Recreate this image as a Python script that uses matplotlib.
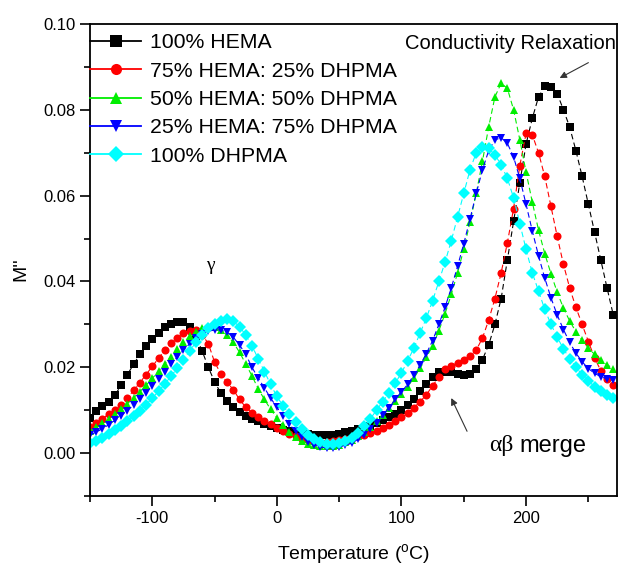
import matplotlib
matplotlib.use("Agg")
import matplotlib.pyplot as plt
from matplotlib.lines import Line2D

plt.rcParams['font.family'] = ['Liberation Sans', 'DejaVu Sans']
plt.rcParams['mathtext.fontset'] = 'custom'
plt.rcParams['mathtext.rm'] = 'Liberation Sans'
plt.rcParams['axes.unicode_minus'] = False

temps = [-150, -145, -140, -135, -130, -125, -120, -115, -110, -105,
         -100, -95, -90, -85, -80, -75, -70, -65, -60, -55,
         -50, -45, -40, -35, -30, -25, -20, -15, -10, -5,
         0, 5, 10, 15, 20, 25, 30, 35, 40, 45,
         50, 55, 60, 65, 70, 75, 80, 85, 90, 95,
         100, 105, 110, 115, 120, 125, 130, 135, 140, 145,
         150, 155, 160, 165, 170, 175, 180, 185, 190, 195,
         200, 205, 210, 215, 220, 225, 230, 235, 240, 245,
         250, 255, 260, 265, 270]

hema100 = [0.0081, 0.0097, 0.0110, 0.0120, 0.0135, 0.0158, 0.0183, 0.0207, 0.0230, 0.0250,
           0.0266, 0.0281, 0.0294, 0.0302, 0.0306, 0.0305, 0.0295, 0.0272, 0.0238, 0.0200,
           0.0166, 0.0140, 0.0122, 0.0107, 0.0095, 0.0087, 0.0080, 0.0074, 0.0068, 0.0063,
           0.0058, 0.0054, 0.0051, 0.0048, 0.0046, 0.0044, 0.0042, 0.0041, 0.0042, 0.0043,
           0.0045, 0.0048, 0.0051, 0.0055, 0.0059, 0.0064, 0.0070, 0.0076, 0.0083, 0.0091,
           0.0100, 0.0112, 0.0127, 0.0145, 0.0162, 0.0178, 0.0188, 0.0189, 0.0188, 0.0185,
           0.0181, 0.0184, 0.0195, 0.0218, 0.0252, 0.0300, 0.0360, 0.0450, 0.0540, 0.0630,
           0.0720, 0.0780, 0.0830, 0.0855, 0.0853, 0.0838, 0.0800, 0.0760, 0.0705, 0.0645,
           0.0580, 0.0515, 0.0450, 0.0385, 0.0322]

hema75 = [0.0060, 0.0070, 0.0080, 0.0091, 0.0100, 0.0112, 0.0128, 0.0146, 0.0164, 0.0183,
          0.0202, 0.0221, 0.0240, 0.0256, 0.0269, 0.0279, 0.0285, 0.0286, 0.0276, 0.0255,
          0.0212, 0.0185, 0.0165, 0.0148, 0.0125, 0.0107, 0.0094, 0.0083, 0.0074, 0.0067,
          0.0059, 0.0052, 0.0045, 0.0039, 0.0034, 0.0030, 0.0028, 0.0027, 0.0027, 0.0028,
          0.0030, 0.0033, 0.0036, 0.0039, 0.0042, 0.0046, 0.0051, 0.0058, 0.0066, 0.0074,
          0.0083, 0.0093, 0.0106, 0.0120, 0.0136, 0.0157, 0.0177, 0.0195, 0.0204, 0.0211,
          0.0218, 0.0226, 0.0240, 0.0268, 0.0310, 0.0360, 0.0420, 0.0490, 0.0570, 0.0670,
          0.0745, 0.0742, 0.0700, 0.0645, 0.0575, 0.0505, 0.0440, 0.0385, 0.0340, 0.0300,
          0.0260, 0.0222, 0.0192, 0.0172, 0.0158]

hema50 = [0.0052, 0.0060, 0.0069, 0.0079, 0.0090, 0.0102, 0.0115, 0.0129, 0.0143, 0.0158,
          0.0174, 0.0191, 0.0208, 0.0225, 0.0242, 0.0258, 0.0272, 0.0283, 0.0291, 0.0295,
          0.0294, 0.0286, 0.0275, 0.0258, 0.0235, 0.0208, 0.0180, 0.0150, 0.0125, 0.0102,
          0.0082, 0.0065, 0.0050, 0.0038, 0.0029, 0.0022, 0.0018, 0.0016, 0.0016, 0.0017,
          0.0020, 0.0025, 0.0031, 0.0039, 0.0049, 0.0061, 0.0074, 0.0089, 0.0105, 0.0121,
          0.0138, 0.0155, 0.0175, 0.0198, 0.0223, 0.0250, 0.0285, 0.0325, 0.0370, 0.0420,
          0.0475, 0.0538, 0.0605, 0.0680, 0.0760, 0.0830, 0.0862, 0.0850, 0.0800, 0.0730,
          0.0655, 0.0585, 0.0520, 0.0465, 0.0418, 0.0375, 0.0338, 0.0308, 0.0283, 0.0263,
          0.0245, 0.0230, 0.0217, 0.0206, 0.0197]

hema25 = [0.0042, 0.0049, 0.0057, 0.0066, 0.0076, 0.0087, 0.0099, 0.0112, 0.0126, 0.0141,
          0.0157, 0.0173, 0.0190, 0.0207, 0.0224, 0.0240, 0.0255, 0.0268, 0.0278, 0.0284,
          0.0287, 0.0287, 0.0282, 0.0270, 0.0252, 0.0230, 0.0200, 0.0175, 0.0152, 0.0128,
          0.0107, 0.0086, 0.0067, 0.0051, 0.0038, 0.0027, 0.0019, 0.0014, 0.0012, 0.0012,
          0.0014, 0.0018, 0.0023, 0.0032, 0.0043, 0.0056, 0.0071, 0.0088, 0.0106, 0.0125,
          0.0143, 0.0160, 0.0182, 0.0205, 0.0232, 0.0262, 0.0300, 0.0340, 0.0385, 0.0435,
          0.0488, 0.0545, 0.0605, 0.0660, 0.0705, 0.0730, 0.0735, 0.0722, 0.0690, 0.0640,
          0.0580, 0.0518, 0.0460, 0.0408, 0.0362, 0.0322, 0.0288, 0.0258, 0.0233, 0.0213,
          0.0197, 0.0186, 0.0178, 0.0173, 0.0170]

dhpma100 = [0.0023, 0.0029, 0.0036, 0.0044, 0.0053, 0.0063, 0.0074, 0.0086, 0.0099, 0.0113,
            0.0128, 0.0144, 0.0161, 0.0179, 0.0198, 0.0218, 0.0238, 0.0258, 0.0276, 0.0291,
            0.0302, 0.0309, 0.0312, 0.0307, 0.0295, 0.0275, 0.0250, 0.0220, 0.0190, 0.0160,
            0.0132, 0.0110, 0.0090, 0.0072, 0.0056, 0.0043, 0.0033, 0.0026, 0.0022, 0.0021,
            0.0023, 0.0028, 0.0036, 0.0047, 0.0062, 0.0080, 0.0100, 0.0120, 0.0141, 0.0163,
            0.0187, 0.0215, 0.0245, 0.0280, 0.0315, 0.0355, 0.0400, 0.0445, 0.0495, 0.0550,
            0.0605, 0.0660, 0.0700, 0.0713, 0.0710, 0.0695, 0.0672, 0.0640, 0.0595, 0.0535,
            0.0475, 0.0420, 0.0378, 0.0335, 0.0300, 0.0270, 0.0243, 0.0220, 0.0200, 0.0183,
            0.0168, 0.0155, 0.0145, 0.0136, 0.0128]

labels = ['100% HEMA', '75% HEMA: 25% DHPMA', '50% HEMA: 50% DHPMA',
          '25% HEMA: 75% DHPMA', '100% DHPMA']
series = [hema100, hema75, hema50, hema25, dhpma100]
colors = ['#000000', '#ff0000', '#00ee00', '#0000ff', '#00ffff']
markers = ['s', 'o', '^', 'v', 'D']

for s in series:
    assert len(s) == len(temps)

fig = plt.figure(figsize=(6.19, 5.68), dpi=100)
ax = fig.add_axes([90/619, 72/568, 527/619, 472/568])

for s, c, m in zip(series, colors, markers):
    ax.plot(temps, s, linestyle=(0, (5, 3)), linewidth=0.8, color=c,
            marker=m, markersize=5.8,
            markeredgewidth=0, markerfacecolor=c)

ax.set_xlim(-150, 273)
ax.set_ylim(-0.01, 0.10)
ax.set_xticks([-100, 0, 100, 200])
ax.set_xticks([-150, -50, 50, 150, 250], minor=True)
ax.set_yticks([0.00, 0.02, 0.04, 0.06, 0.08, 0.10])
ax.set_yticks([-0.01, 0.01, 0.03, 0.05, 0.07, 0.09], minor=True)
ax.set_yticklabels(['0.00', '0.02', '0.04', '0.06', '0.08', '0.10'])
ax.tick_params(axis='both', which='major', direction='out', length=7, width=1.2,
               labelsize=12, top=False, right=False)
ax.tick_params(axis='both', which='minor', direction='out', length=4, width=1.2,
               top=False, right=False)
for sp in ax.spines.values():
    sp.set_linewidth(1.3)

ax.set_xlabel('Temperature ($\\mathregular{^{o}}$C)', fontsize=14, labelpad=12)
ax.set_ylabel("M''", fontsize=14)
ax.yaxis.set_label_coords(-0.115, 0.48)

handles = [Line2D([0], [0], color=c, marker=m, markersize=8, linewidth=1.3,
                  markeredgewidth=0, markerfacecolor=c)
           for c, m in zip(colors, markers)]
ax.legend(handles, labels, loc='upper left', bbox_to_anchor=(0.0, 0.98),
          frameon=False, fontsize=15.3, handlelength=2.4, handletextpad=0.4,
          labelspacing=0.44, borderpad=0, borderaxespad=0)

ax.text(-53, 0.0437, 'γ', fontsize=14, family=['Liberation Serif', 'DejaVu Serif'],
        ha='center', va='center')
ax.text(272, 0.0955, 'Conductivity Relaxation', fontsize=14.5, ha='right', va='center')
ax.annotate('', xy=(225, 0.0871), xytext=(252, 0.0913),
            arrowprops=dict(arrowstyle='-|>', color='#333333', lw=0.8, mutation_scale=10))
ax.text(170, 0.0017, 'αβ', fontsize=17, family=['Liberation Serif', 'DejaVu Serif'],
        ha='left', va='center')
ax.text(195, 0.0017, 'merge', fontsize=17, ha='left', va='center')
ax.annotate('', xy=(139, 0.0134), xytext=(153.6, 0.0045),
            arrowprops=dict(arrowstyle='-|>', color='#333333', lw=0.8, mutation_scale=10))

fig.savefig('out.png', dpi=100)
